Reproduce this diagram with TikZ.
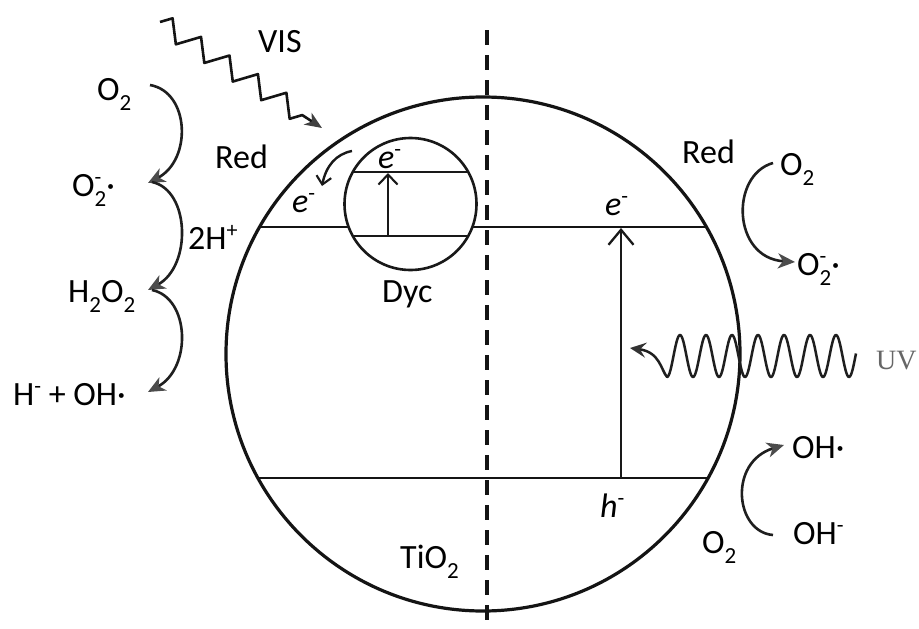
\documentclass[tikz,border=0pt]{standalone}
\usepackage{fontspec}
\setmainfont{Carlito}
\newfontfamily\uvfont{Liberation Serif}
\usetikzlibrary{arrows.meta,decorations.pathmorphing}
\newcommand\dn[1]{\raisebox{-10pt}{\fontsize{23}{23}\selectfont #1}}
\newcommand\up[1]{\raisebox{12pt}{\fontsize{22}{22}\selectfont #1}}
\begin{document}
\begin{tikzpicture}[x=1pt,y=-1pt,
  lbl/.style={inner sep=0pt, anchor=base west, font=\fontsize{34}{40}\selectfont, text=black},
  ink/.style={draw=black!92, line width=2.9pt},
  thinline/.style={draw=black!90, line width=2.4pt},
  rxn/.style={draw=black!88, line width=2.6pt, -{Stealth[length=17pt,width=15pt,inset=5pt,fill=black!70,color=black!70]}},
  openhd/.style={-{Straight Barb[length=15pt,width=25pt,line width=2.3pt]}},
  openhdsmall/.style={-{Straight Barb[length=10pt,width=19pt,line width=2.1pt]}}
]
\useasboundingbox (0,0) rectangle (919,629);
\fill[white] (0,0) rectangle (919,629);

% TiO2 particle and band edges
\draw[ink, line width=3.2pt] (483,354) circle[radius=257pt];
\draw[ink] (259.6,227) -- (348.6,227);
\draw[ink] (472.4,227) -- (706.4,227);
\draw[ink] (258,478) -- (708,478);

% dye
\draw[thinline, line width=2.6pt] (410.5,204) circle[radius=66pt];
\draw[thinline] (353,172) -- (468,172);
\draw[thinline] (353,236) -- (468,236);
\draw[thinline, openhdsmall] (388,236) -- (388,173);
\draw[thinline, -{Straight Barb[length=8pt,width=15pt,line width=2.1pt]}] (352,151) .. controls (336,154) and (326,166) .. (322,186);

% band-gap excitation
\draw[thinline, openhd] (621,478) -- (621,228);

% dashed divider
\draw[black!92, line width=4.5pt, dash pattern=on 15pt off 10pt] (487,30) -- (487,629);

% labels
\node[lbl] (vis) at (258,52) {VIS};
\node[lbl] (redL) at (215,168) {Red};
\node[lbl] (redR) at (682,163) {Red};
\node[lbl] (eL) at (292,212) {\textit{e}\up{-}};
\node[lbl] (eS) at (378,168) {\textit{e}\up{-}};
\node[lbl] (eR) at (605,215) {\textit{e}\up{-}};
\node[lbl] (hR) at (600,517) {\textit{h}\up{-}};
\node[lbl] (dyc) at (382,302) {Dyc};
\node[lbl] (tio2) at (400,568) {TiO\dn{2}};
\node[lbl] (twoH) at (188,249) {2H\up{+}};

\node[lbl] (o2a) at (97,100) {O\dn{2}};
\node[lbl] (o2b) at (72,196) {O\rlap{\up{-}}\dn{2}·};
\node[lbl] (h2o2) at (68,302) {H\dn{2}O\dn{2}};
\node[lbl] (hoh) at (13,405) {H\up{-} + OH·};

\node[lbl] (o2r) at (780,175) {O\dn{2}};
\node[lbl] (o2mr) at (797,275) {O\rlap{\up{-}}\dn{2}·};
\node[lbl] (ohdot) at (792,458) {OH·};
\node[lbl] (ohm) at (793,544) {OH\up{-}};
\node[lbl] (o2br) at (702,553) {O\dn{2}};
\node[inner sep=0pt, anchor=base west, font=\uvfont\fontsize{28}{30}\selectfont, text=black!60] (uv) at (876,369) {UV};

% connector end points
\coordinate (o2a-out) at (150,85);
\coordinate (o2b-in) at (148,183);
\coordinate (o2b-out) at (152,182);
\coordinate (h2o2-in) at (148,290);
\coordinate (h2o2-out) at (152,290);
\coordinate (hoh-in) at (148,392);
\coordinate (o2r-out) at (773,163);
\coordinate (o2mr-in) at (795,262);
\coordinate (ohm-out) at (773,535);
\coordinate (ohdot-in) at (784,445);
\coordinate (vis-start) at (160,22);
\coordinate (vis-tip) at (322,128);
\coordinate (uv-tip) at (630,348);

% reaction arrows
\draw[rxn] (o2a-out) .. controls (190,92) and (192,160) .. (o2b-in);
\draw[rxn] (o2b-out) .. controls (190,190) and (192,266) .. (h2o2-in);
\draw[rxn] (h2o2-out) .. controls (190,298) and (192,368) .. (hoh-in);
\draw[rxn] (o2r-out) .. controls (730,175) and (732,258) .. (o2mr-in);
\draw[rxn] (ohm-out) .. controls (735,532) and (728,462) .. (ohdot-in);

% visible light
\draw[black!92, line width=2.6pt, line join=round, decorate,
  decoration={zigzag, segment length=34pt, amplitude=10pt, post length=20pt},
  -{Stealth[length=17pt,width=14pt,inset=5pt,fill=black!75,color=black!75]}]
  (vis-start) -- (vis-tip);

% UV light
\draw[black!88, line width=2.5pt, line join=round,
  -{Stealth[length=16pt,width=15pt,inset=6pt,fill=black!80,color=black!80]}]
  plot[domain=856:667, samples=220, smooth] (\x, {356 + 21*cos(13.846*(\x-667))})
  .. controls (661,370) and (660,352) .. (uv-tip);
\end{tikzpicture}
\end{document}
